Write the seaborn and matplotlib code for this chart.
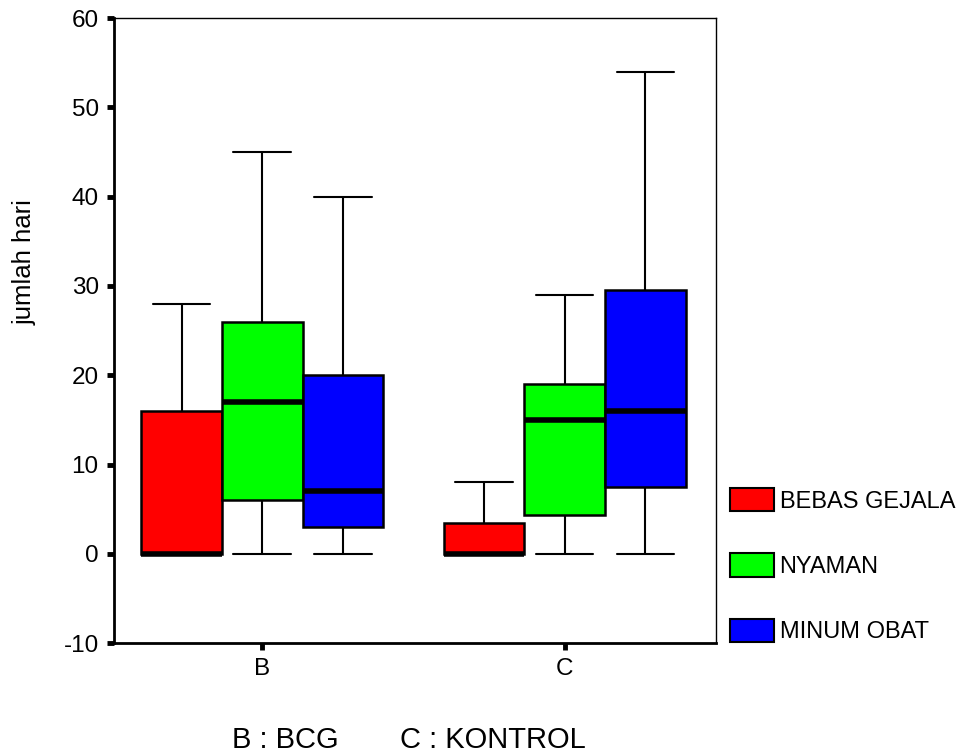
import matplotlib
matplotlib.use('Agg')
import matplotlib.pyplot as plt
import pandas as pd
import seaborn as sns
from matplotlib.patches import Patch

# five-number summaries: min, Q1, median, Q3, max
groups = ['B', 'C']
series = ['BEBAS GEJALA', 'NYAMAN', 'MINUM OBAT']
bebas_b = [0, 0, 0, 16, 28]
nyaman_b = [0, 6, 17, 26, 45]
minum_b = [0, 3, 7, 20, 40]
bebas_c = [0, 0, 0, 3.5, 8]
nyaman_c = [0, 4.4, 15, 19, 29]
minum_c = [0, 7.5, 16, 29.5, 54]
colors = ['#ff0000', '#00ff00', '#0000ff']
y_ticks = [-10, 0, 10, 20, 30, 40, 50, 60]

def build_frame():
    values = {
        ('B', 'BEBAS GEJALA'): bebas_b,
        ('B', 'NYAMAN'): nyaman_b,
        ('B', 'MINUM OBAT'): minum_b,
        ('C', 'BEBAS GEJALA'): bebas_c,
        ('C', 'NYAMAN'): nyaman_c,
        ('C', 'MINUM OBAT'): minum_c,
    }
    rows = []
    for (group, name), vals in values.items():
        for v in vals:
            rows.append({'kelompok': group, 'gejala': name, 'hari': v})
    return pd.DataFrame(rows)

df = build_frame()

sns.set_style('white')
plt.rcParams['font.family'] = ['Liberation Sans', 'DejaVu Sans']
plt.rcParams['text.color'] = 'black'
plt.rcParams['axes.labelcolor'] = 'black'
plt.rcParams['xtick.color'] = 'black'
plt.rcParams['ytick.color'] = 'black'

fig = plt.figure(figsize=(9.61, 7.54), dpi=100)
ax = fig.add_axes([0.1186, 0.147, 0.745 - 0.1186, 0.976 - 0.147])

sns.boxplot(data=df, x='kelompok', y='hari', hue='gejala', order=groups,
            hue_order=series, palette=colors, saturation=1, whis=(0, 100),
            width=0.8, gap=0, linecolor='black', linewidth=1.5, legend=False,
            ax=ax,
            boxprops={'edgecolor': 'black', 'linewidth': 1.8},
            medianprops={'color': 'black', 'linewidth': 4},
            whiskerprops={'color': 'black', 'linewidth': 1.5},
            capprops={'color': 'black', 'linewidth': 1.5},
            capwidths=0.19)

ax.set_xlim(-0.49, 1.5)
ax.set_ylim(-10, 60)
ax.set_yticks(y_ticks)
ax.set_yticklabels([str(t) for t in y_ticks])
ax.set_xlabel('')
ax.set_ylabel('jumlah hari', fontsize=18.5)
ax.yaxis.set_label_coords(-0.128, 0.61)
ax.tick_params(axis='both', direction='out', length=5, width=3.5,
               color='black', labelcolor='black', labelsize=17.5, pad=6,
               left=True, bottom=True)

for side in ['left', 'bottom']:
    ax.spines[side].set_linewidth(2)
    ax.spines[side].set_color('black')
for side in ['top', 'right']:
    ax.spines[side].set_linewidth(1)
    ax.spines[side].set_color('black')
    ax.spines[side].set_visible(True)

handles = [Patch(facecolor=c, edgecolor='black', linewidth=1.5) for c in colors]
fig.legend(handles, series, loc='upper left', bbox_to_anchor=(730 / 961, 1 - 488 / 754),
           frameon=False, fontsize=17, handlelength=1.85, handleheight=1.15,
           handletextpad=0.25, labelspacing=1.72, borderpad=0, borderaxespad=0)

fig.text(232 / 961, 1 - 740 / 754, 'B : BCG', fontsize=21, va='center', ha='left')
fig.text(400 / 961, 1 - 740 / 754, 'C : KONTROL', fontsize=21, va='center', ha='left')

fig.savefig('out.png', dpi=100)
